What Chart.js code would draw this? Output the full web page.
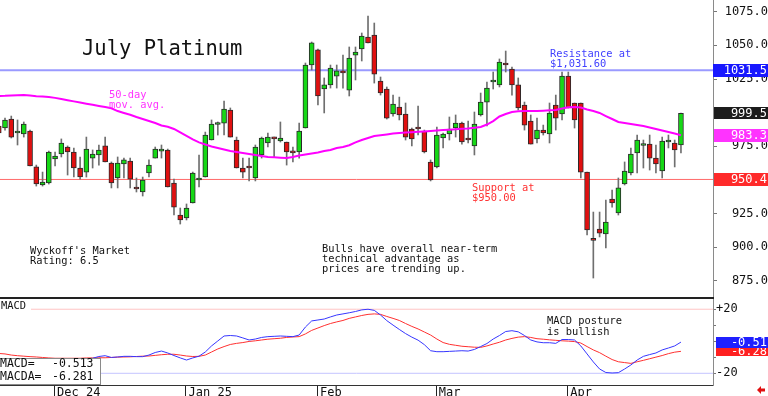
<!DOCTYPE html>
<html>
<head>
<meta charset="utf-8">
<script src="https://cdn.jsdelivr.net/npm/chart.js@4.4.1/dist/chart.umd.min.js"></script>
<style>
  body { margin: 0; background: #fff; }
  #wrap { position: relative; width: 768px; height: 396px; overflow: hidden; }
  #top { position: absolute; left: 0; top: 0; }
  #sep { position: absolute; left: 0; top: 297px; width: 714px; height: 2px; background: #222; }
  #bot { position: absolute; left: 0; top: 299px; }
</style>
</head>
<body>
<div id="wrap">
  <canvas id="top" width="768" height="297"></canvas>
  <div id="sep"></div>
  <canvas id="bot" width="768" height="97"></canvas>
</div>
<script>
// daily candles, Nov 2024 - Apr 2025 (index 0 is the cut-off bar at the left edge)
var open = [990,988.6,995.3,984.9,984.2,986.4,959.7,946.3,947.8,965.6,969.3,974.5,970.8,958.9,955.9,966.3,968.6,975.3,962.6,951.5,
  961.9,964.1,944.8,941.1,955.2,966.3,971.5,972.3,947.8,924.0,921.8,932.9,950.0,952.2,979.7,991.2,992.3,1002.0,979.7,958.9,
  959.7,951.5,968.6,977.5,981.9,979.0,978.2,971.5,970.8,988.6,1035.4,1046.6,1017.6,1020.6,1027.2,1031.0,1016.8,1042.8,1047.3,1056.2,
  1057.7,1023.5,1017.6,999.0,1004.2,999.0,987.9,988.6,986.4,963.4,959.7,981.2,984.2,988.6,992.3,980.5,975.3,998.3,1007.9,1022.8,
  1020.6,1036.9,1032.4,1020.6,1005.7,993.8,980.5,987.1,984.2,1005.7,999.0,1027.2,1007.2,1007.2,955.9,905.8,913.6,909.9,935.9,925.5,
  947.0,955.2,970.1,975.6,976.7,966.3,956.7,978.2,977.5,976.0];
var high = [999.8,996.0,997.5,994.6,993.1,987.1,961.1,955.9,971.5,970.8,980.5,975.3,973.8,967.1,981.9,972.3,976.0,981.9,963.4,967.1,
  966.3,966.3,951.5,952.2,964.9,974.5,976.0,973.0,950.7,929.2,932.2,955.9,968.6,985.6,994.6,993.1,1008.7,1003.5,981.9,966.3,
  966.3,976.0,981.9,984.9,981.9,993.1,978.2,974.5,992.3,1036.9,1052.5,1047.3,1025.8,1035.4,1035.4,1042.8,1048.8,1048.8,1059.2,1071.8,
  1066.6,1026.5,1019.1,1013.1,1011.6,1007.2,988.6,1005.0,987.1,964.9,989.4,984.9,996.8,998.3,993.1,993.8,1000.5,1014.6,1022.8,1030.2,
  1039.9,1045.8,1033.9,1025.8,1007.9,998.3,996.0,990.8,1007.2,1013.1,1030.2,1030.2,1007.2,1007.2,955.9,926.2,926.2,935.1,942.6,951.5,
  963.4,973.8,983.4,979.7,983.4,976.0,981.9,983.4,979.7,999.8];
var low = [960.4,987.1,981.2,976.0,981.9,960.4,945.5,945.5,947.0,960.4,967.1,953.7,952.2,950.7,952.2,958.9,961.1,963.4,944.1,944.1,
  951.5,944.1,941.1,938.1,952.2,966.3,966.3,944.8,924.0,917.3,920.3,932.9,944.8,952.2,979.7,983.4,983.4,981.9,958.9,951.5,
  949.3,949.3,966.3,974.5,967.1,978.2,961.1,963.4,966.3,988.6,1031.7,1005.7,999.8,1018.3,1018.3,1018.3,1012.4,1024.3,1038.4,1051.8,
  1022.0,1013.1,995.3,997.5,994.6,979.7,975.3,983.4,970.1,949.3,958.9,973.8,979.7,981.9,976.7,977.5,968.6,997.5,990.1,1017.6,
  1019.1,1030.2,1013.1,1002.0,987.1,976.7,977.5,983.4,977.5,987.1,994.6,1003.5,988.6,951.5,909.2,877.2,907.7,899.5,929.9,924.0,
  946.3,953.7,955.2,958.9,957.4,955.2,951.5,973.8,959.7,970.1];
var close = [985,994.6,981.9,986.4,991.6,960.4,947.0,948.5,970.8,967.8,977.5,970.8,958.9,952.2,973.0,969.3,972.3,963.4,947.8,962.6,
  964.9,950.7,943.3,950.0,961.1,973.0,973.0,944.8,929.9,920.3,929.2,955.2,950.7,983.4,991.6,991.6,1002.7,981.9,958.9,955.9,
  958.9,974.5,981.2,981.9,980.5,981.2,970.8,970.1,986.4,1035.4,1051.8,1012.4,1020.6,1033.2,1031.0,1029.5,1040.6,1045.1,1056.9,1051.8,
  1028.7,1014.6,996.0,1006.4,998.3,981.9,980.5,987.9,970.8,950.0,983.4,984.2,987.9,992.3,978.2,979.7,991.6,1007.9,1018.3,1024.3,
  1037.6,1035.4,1020.6,1003.5,990.8,976.7,987.1,984.9,999.8,996.0,1027.2,1003.5,994.6,955.9,912.9,905.1,910.6,918.8,932.9,944.1,
  956.7,969.3,979.7,976.0,966.3,961.9,979.0,979.7,972.3,999.5];
var ma50 = [1012.4,1012.5,1012.8,1012.9,1013.1,1012.7,1012.2,1012.0,1011.6,1011.0,1010.2,1009.3,1008.4,1007.6,1006.7,1005.9,1005.0,1004.2,1003.3,1001.2,
  999.8,998.5,996.8,995.3,993.8,992.3,990.5,989.6,987.9,985.3,982.7,980.1,977.9,976.4,974.9,973.8,972.7,971.5,970.8,970.1,
  969.3,968.6,967.8,967.1,966.9,966.6,966.3,967.1,968.2,968.9,969.7,970.4,971.5,972.3,973.8,974.5,975.8,977.9,979.7,981.2,
  982.7,983.2,983.8,984.5,984.9,985.2,985.5,985.8,986.1,986.4,986.8,987.1,987.4,987.7,988.0,988.3,988.8,989.4,991.2,993.8,
  997.2,999.0,1000.5,1001.0,1001.2,1001.2,1001.2,1001.5,1001.8,1002.0,1003.1,1004.0,1004.2,1003.8,1002.4,1001.2,999.8,997.5,995.3,993.1,
  992.3,991.6,990.8,990.1,989.0,987.9,986.8,985.6,984.5,983.3];
var macd = [-13,-13.5,-14,-14.3,-14.5,-14.5,-14.8,-15,-14.5,-14,-13.5,-13,-12.5,-11.8,-11,-10.6,-9.5,-9.0,-10.1,-9.8,
  -9.4,-9.4,-9.6,-9.6,-8.6,-7.0,-6.1,-7.3,-8.9,-10.4,-11.7,-10.4,-9.3,-6.7,-2.9,0.2,3.3,3.6,3.3,2.1,
  0.8,1.4,2.4,2.9,3.1,3.3,3.1,2.9,3.9,8.9,12.7,13.3,13.9,15.2,16.4,17.1,17.8,18.6,19.6,20.0,
  19.3,16.4,12.9,10.1,7.4,4.8,2.6,0.7,-2.1,-5.9,-6.5,-6.5,-6.3,-6.1,-5.9,-6.1,-5.1,-3.3,-1.4,1.4,
  3.6,6.1,6.6,5.9,3.6,0.8,-0.4,-0.9,-0.9,-1.3,1.1,1.1,0.8,-2.9,-7.9,-12.9,-17.3,-19.5,-19.8,-19.6,
  -17.3,-14.8,-11.7,-9.4,-8.3,-7.3,-5.4,-4.2,-2.9,-0.51];
var macdAvg = [-7.6,-7.9,-8.6,-9.0,-9.3,-9.6,-9.8,-10.1,-10.4,-10.6,-10.6,-10.6,-10.6,-10.6,-10.4,-10.4,-10.3,-10.3,-10.1,-9.9,
  -9.8,-9.7,-9.5,-9.3,-9.2,-8.8,-8.4,-8.1,-8.1,-8.6,-9.2,-9.5,-9.4,-8.6,-6.7,-4.8,-3.3,-2.0,-1.3,-0.8,
  -0.1,0.3,0.8,1.3,1.6,1.9,2.4,2.7,2.9,4.6,6.8,8.3,9.8,11.1,12.1,13.0,14.3,15.2,16.1,16.8,
  17.1,16.8,15.5,14.3,13.0,11.1,9.3,7.7,5.8,3.9,1.4,-0.8,-1.9,-2.5,-3.1,-3.4,-3.7,-3.8,-2.9,-1.7,
  -0.6,0.8,1.8,2.6,2.9,2.4,1.6,1.3,0.9,0.6,0.3,0.1,-0.2,-1.1,-3.3,-5.4,-7.1,-9.3,-11.4,-12.8,
  -13.3,-13.8,-12.8,-11.9,-10.9,-9.9,-8.9,-7.7,-6.8,-6.28];
var monthTicks = [9, 30, 51, 70, 91];
var monthLabels = ['Dec 24', 'Jan 25', 'Feb', 'Mar', 'Apr'];
var resistance = 1031.5;
var support = 950.4;
var lastClose = 999.5;
var lastMa = 983.3;
var lastMacd = -0.51;
var lastMacdAvg = -6.28;

var X_MIN = 0.2, X_MAX = 114.12;
var MONO = '"DejaVu Sans Mono", "Liberation Mono", monospace';
var idx = open.map(function(_, i) { return i; });
var pts = function(arr) { return idx.map(function(i) { return {x: i, y: arr[i]}; }); };
var flat = function(v) { return [{x: X_MIN - 2, y: v}, {x: X_MAX + 2, y: v}]; };

// the axis must hug the canvas edges, no room for half labels
function noPad(s) {
  s.paddingTop = 0; s.paddingBottom = 0; s.paddingLeft = 0; s.paddingRight = 0;
}

function box(ctx, scale, value, color, text, left, h) {
  var y = scale.getPixelForValue(value);
  ctx.fillStyle = color;
  ctx.fillRect(left, Math.round(y - h / 2), 768 - left, h);
  ctx.fillStyle = '#fff';
  ctx.textAlign = 'right';
  ctx.textBaseline = 'middle';
  ctx.fillText(text, 767, y + 0.5);
}

function txt(ctx, lines, x, y0, dy, color, size) {
  ctx.fillStyle = color;
  ctx.font = size + 'px ' + MONO;
  ctx.textAlign = 'left';
  ctx.textBaseline = 'alphabetic';
  lines.forEach(function(s, i) { ctx.fillText(s, x, y0 + i * dy); });
}

var topNotes = {
  id: 'topNotes',
  afterDraw: function(chart) {
    var ctx = chart.ctx, y = chart.scales.y;
    ctx.save();
    txt(ctx, ['July Platinum'], 82, 55, 0, '#111', 20.5);
    txt(ctx, ['50-day', 'mov. avg.'], 109, 98, 10, '#ff33ff', 10.4);
    txt(ctx, ['Resistance at', '$1,031.60'], 550, 57, 10, '#4040ff', 10.4);
    txt(ctx, ['Support at', '$950.00'], 472, 190.5, 10, '#ff3030', 10.4);
    txt(ctx, ["Wyckoff's Market", 'Rating: 6.5'], 30, 254, 10, '#111', 10.4);
    txt(ctx, ['Bulls have overall near-term', 'technical advantage as', 'prices are trending up.'], 322, 252, 10, '#111', 10.4);
    ctx.font = '12px ' + MONO;
    box(ctx, y, resistance, '#1818ff', '1031.5', 713, 13);
    box(ctx, y, lastClose, '#1c1c1c', '999.5', 714, 12);
    box(ctx, y, lastMa, '#ff33ff', '983.3', 714, 13);
    box(ctx, y, support, '#ff2a2a', '950.4', 714, 13);
    ctx.restore();
  }
};

var botNotes = {
  id: 'botNotes',
  afterDraw: function(chart) {
    var ctx = chart.ctx, y = chart.scales.y, x = chart.scales.x;
    ctx.save();
    ctx.fillStyle = '#fff';
    ctx.fillRect(0, 1, 31, 12);
    txt(ctx, ['MACD'], 1, 10.3, 0, '#111', 10.4);
    txt(ctx, ['MACD posture', 'is bullish'], 547, 25.3, 10.7, '#111', 10.4);
    ctx.fillStyle = '#fff';
    ctx.fillRect(0, 59, 101, 26);
    ctx.strokeStyle = '#8a8a8a';
    ctx.lineWidth = 1;
    ctx.strokeRect(-1, 59.5, 101.5, 26);
    txt(ctx, ['MACD=', 'MACDA='], 0, 68.3, 12.7, '#111', 11.5);
    txt(ctx, ['-0.513', '-6.281'], 52, 68.3, 12.7, '#111', 11.5);
    ctx.font = '12px ' + MONO;
    box(ctx, y, lastMacdAvg, '#ff2020', '-6.28', 716, 10);
    box(ctx, y, lastMacd, '#2020ff', '-0.51', 716, 11);
    ctx.font = '12px ' + MONO;
    ctx.fillStyle = '#111';
    ctx.textAlign = 'left';
    ctx.textBaseline = 'top';
    monthTicks.forEach(function(v, i) {
      ctx.fillText(monthLabels[i], x.getPixelForValue(v) + 2, chart.chartArea.bottom + 2);
    });
    // little red arrow, bottom right
    ctx.fillStyle = '#e01010';
    ctx.beginPath();
    ctx.moveTo(757, 91); ctx.lineTo(761, 87); ctx.lineTo(761, 89.5); ctx.lineTo(765, 89.5);
    ctx.lineTo(765, 92.5); ctx.lineTo(761, 92.5); ctx.lineTo(761, 95); ctx.closePath();
    ctx.fill();
    ctx.restore();
  }
};

window.onload = function() {
  var bodyColors = idx.map(function(i) { return close[i] >= open[i] ? '#16d816' : '#e01010'; });

  new Chart(document.getElementById('top'), {
    type: 'bar',
    data: {
      datasets: [
        { type: 'line', data: pts(ma50), borderColor: '#ff00ff', borderWidth: 2, pointRadius: 0, order: 0 },
        { label: 'body', data: idx.map(function(i) { return {x: i, y: [open[i], close[i]]}; }),
          backgroundColor: bodyColors, borderColor: '#2a2a2a', borderWidth: 1, borderSkipped: false,
          barThickness: 5, minBarLength: 2, grouped: false, order: 2 },
        { label: 'wick', data: idx.map(function(i) { return {x: i, y: [low[i], high[i]]}; }),
          backgroundColor: '#6f6f6f', borderWidth: 0, barThickness: 1, grouped: false, order: 3 },
        { type: 'line', data: flat(resistance), borderColor: '#9a9aff', borderWidth: 2, pointRadius: 0, order: 5 },
        { type: 'line', data: flat(support), borderColor: '#ff6a6a', borderWidth: 1, pointRadius: 0, order: 5 }
      ]
    },
    options: {
      responsive: false, animation: false, devicePixelRatio: 1,
      layout: { padding: 0 },
      plugins: { legend: { display: false }, tooltip: { enabled: false } },
      scales: {
        x: { type: 'linear', min: X_MIN, max: X_MAX, display: false, offset: false },
        y: {
          position: 'right', min: 863.1, max: 1083.7,
          afterFit: function(s) { s.width = 55; noPad(s); },
          grid: { drawOnChartArea: false, tickLength: 4, color: '#777' },
          border: { color: '#8a8a8a' },
          ticks: { stepSize: 25, includeBounds: false, crossAlign: 'far', padding: 7, color: '#111',
            font: { family: MONO, size: 12 }, callback: function(v) { return v.toFixed(1); } }
        }
      }
    },
    plugins: [topNotes]
  });

  new Chart(document.getElementById('bot'), {
    type: 'line',
    data: {
      datasets: [
        { data: pts(macd), borderColor: '#3636ff', borderWidth: 1, pointRadius: 0, order: 0 },
        { data: pts(macdAvg), borderColor: '#ff3030', borderWidth: 1, pointRadius: 0, order: 1 },
        { data: flat(20), borderColor: '#ffc4c4', borderWidth: 1, pointRadius: 0, order: 3 },
        { data: flat(-20), borderColor: '#c4c4ff', borderWidth: 1, pointRadius: 0, order: 3 }
      ]
    },
    options: {
      responsive: false, animation: false, devicePixelRatio: 1,
      layout: { padding: 0 },
      plugins: { legend: { display: false }, tooltip: { enabled: false } },
      scales: {
        x: {
          type: 'linear', min: X_MIN, max: X_MAX, offset: false,
          afterFit: function(s) { s.height = 11; noPad(s); },
          afterBuildTicks: function(s) { s.ticks = monthTicks.map(function(v) { return {value: v - 0.1}; }); },
          grid: { drawOnChartArea: false, tickLength: 11, color: '#222' },
          border: { color: '#333' },
          ticks: { display: false }
        },
        y: {
          position: 'right', min: -27.3, max: 26.4,
          afterFit: function(s) { s.width = 55; noPad(s); },
          grid: { drawOnChartArea: false, tickLength: 3, color: '#777' },
          border: { color: '#8a8a8a' },
          ticks: { stepSize: 10, includeBounds: false, padding: 0, color: '#111',
            font: { family: MONO, size: 12 },
            callback: function(v) { return v === 20 ? '+20' : (v === -20 ? '-20' : ''); } }
        }
      }
    },
    plugins: [botNotes]
  });
};
</script>
</body>
</html>
